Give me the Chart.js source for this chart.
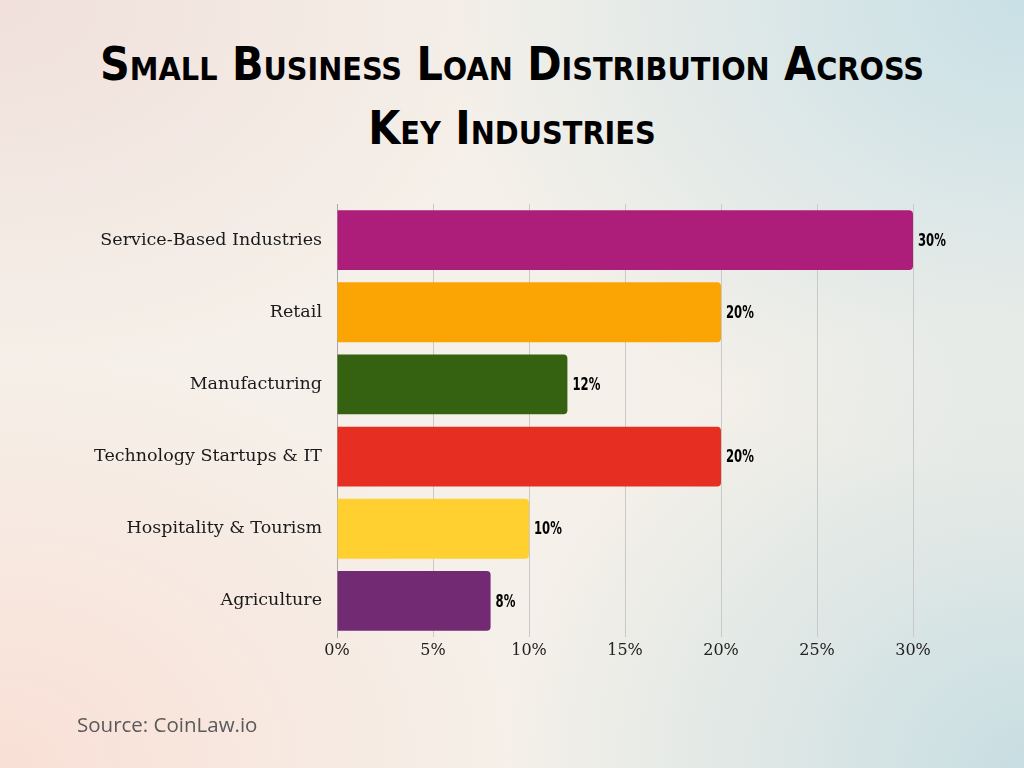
<!DOCTYPE html>
<html>
<head>
<meta charset="utf-8">
<script src="https://cdn.jsdelivr.net/npm/chart.js@4"></script>
<style>
  html, body { margin: 0; padding: 0; }
  body {
    width: 1024px; height: 768px; overflow: hidden; position: relative;
    background:
      radial-gradient(ellipse 520px 420px at 0% 100%, rgba(250,222,212,0.9), rgba(250,222,212,0) 100%),
      radial-gradient(ellipse 520px 380px at 0% 0%, rgba(240,222,218,0.9), rgba(240,222,218,0) 100%),
      radial-gradient(ellipse 580px 470px at 100% 0%, rgba(200,224,230,1), rgba(200,224,230,0) 100%),
      radial-gradient(ellipse 520px 460px at 100% 100%, rgba(200,222,226,1), rgba(200,222,226,0) 100%),
      #f5f0e9;
  }
  #title {
    position: absolute; left: 0; top: 32px; width: 1024px; margin: 0;
    text-align: center; color: #000;
    font-family: "Liberation Sans Narrow", "DejaVu Sans Condensed", sans-serif;
    font-weight: bold; font-size: 46px; line-height: 64px;
    font-variant: small-caps; letter-spacing: 0;
  }
  #source {
    position: absolute; left: 77px; top: 710px;
    font-family: "Open Sans", sans-serif; font-size: 20.5px; color: #5a5a5a;
  }
  #wrap { position: absolute; left: 0; top: 0; width: 1024px; height: 768px; }
</style>
</head>
<body>
<h1 id="title">Small Business Loan Distribution Across<br>Key Industries</h1>
<div id="wrap"><canvas id="chart"></canvas></div>
<div id="source">Source: CoinLaw.io</div>
<script>
// datos del gráfico
const categorias = [
  "Service-Based Industries",
  "Retail",
  "Manufacturing",
  "Technology Startups & IT",
  "Hospitality & Tourism",
  "Agriculture"
];
const valores = [30, 20, 12, 20, 10, 8];
const colores = ["#AD1D7A", "#FBA504", "#346211", "#E62F22", "#FFD030", "#722A72"];
const ticksX = [0, 5, 10, 15, 20, 25, 30];

// etiquetas de valor al final de cada barra (fuente estrechada a mano)
const etiquetasValor = {
  id: "etiquetasValor",
  afterDatasetsDraw(chart) {
    const ctx = chart.ctx;
    const meta = chart.getDatasetMeta(0);
    meta.data.forEach((bar, i) => {
      ctx.save();
      ctx.translate(bar.x + 5, bar.y + 1);
      ctx.scale(0.72, 1);
      ctx.font = 'bold 18px "Liberation Sans Narrow", "DejaVu Sans Condensed", sans-serif';
      ctx.fillStyle = "#000";
      ctx.textAlign = "left";
      ctx.textBaseline = "middle";
      ctx.fillText(valores[i] + "%", 0, 0);
      ctx.restore();
    });
  }
};

new Chart(document.getElementById("chart"), {
  type: "bar",
  data: {
    labels: categorias,
    datasets: [{
      data: valores,
      backgroundColor: colores,
      borderRadius: 4,
      borderSkipped: "start",
      categoryPercentage: 1,
      barPercentage: 0.83
    }]
  },
  options: {
    indexAxis: "y",
    responsive: true,
    maintainAspectRatio: false,
    animation: false,
    layout: { padding: { left: 0, right: 111, top: 204, bottom: 101 } },
    plugins: { legend: { display: false }, tooltip: { enabled: false } },
    scales: {
      x: {
        min: 0, max: 30,
        afterBuildTicks: (axis) => { axis.ticks = ticksX.map((v) => ({ value: v })); },
        afterFit: (axis) => { axis.height = 30; },
        grid: { color: "#c9c9c9", lineWidth: 1, drawTicks: false },
        border: { display: false },
        ticks: {
          padding: 4,
          color: "#222",
          font: { family: '"DejaVu Serif", serif', size: 16 },
          callback: (v) => v + "%"
        }
      },
      y: {
        afterFit: (axis) => { axis.width = 337; },
        grid: { display: false, drawTicks: false },
        border: { display: true, color: "#a8a8a8", width: 1 },
        ticks: {
          padding: 15,
          color: "#1a1a1a",
          font: { family: '"DejaVu Serif", serif', size: 17.5 }
        }
      }
    }
  },
  plugins: [etiquetasValor]
});
</script>
</body>
</html>
